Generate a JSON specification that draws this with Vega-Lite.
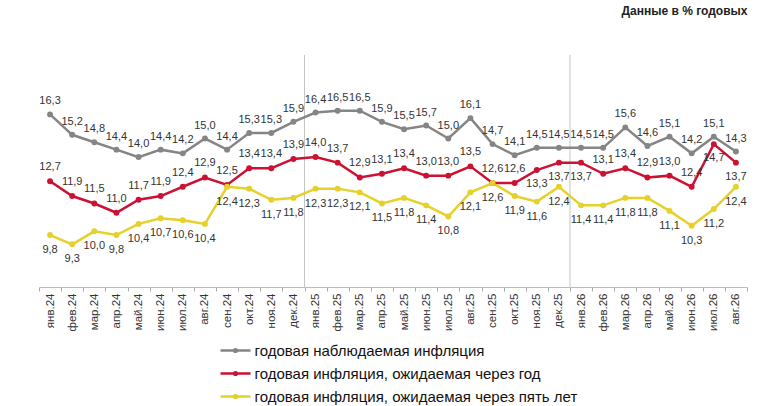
{
  "$schema": "https://vega.github.io/schema/vega-lite/v6.json",
  "width": 708,
  "height": 232,
  "autosize": "none",
  "padding": {"left": 39, "top": 55, "right": 35, "bottom": 119},
  "background": "white",
  "title": {
    "text": "Данные в % годовых",
    "anchor": "end",
    "offset": 37,
    "fontSize": 12,
    "fontWeight": "bold",
    "color": "#222"
  },
  "config": {
    "view": {"stroke": null},
    "font": "Liberation Sans",
    "locale": {
      "number": {"decimal": ",", "thousands": " ", "grouping": [3], "currency": ["", ""]}
    }
  },
  "datasets": {
    "inf": [
      {"m": "янв.24", "obs": 16.3, "y1": 12.7, "y5": 9.8},
      {"m": "фев.24", "obs": 15.2, "y1": 11.9, "y5": 9.3},
      {"m": "мар.24", "obs": 14.8, "y1": 11.5, "y5": 10.0},
      {"m": "апр.24", "obs": 14.4, "y1": 11.0, "y5": 9.8},
      {"m": "май.24", "obs": 14.0, "y1": 11.7, "y5": 10.4},
      {"m": "июн.24", "obs": 14.4, "y1": 11.9, "y5": 10.7},
      {"m": "июл.24", "obs": 14.2, "y1": 12.4, "y5": 10.6},
      {"m": "авг.24", "obs": 15.0, "y1": 12.9, "y5": 10.4},
      {"m": "сен.24", "obs": 14.4, "y1": 12.5, "y5": 12.4},
      {"m": "окт.24", "obs": 15.3, "y1": 13.4, "y5": 12.3},
      {"m": "ноя.24", "obs": 15.3, "y1": 13.4, "y5": 11.7},
      {"m": "дек.24", "obs": 15.9, "y1": 13.9, "y5": 11.8},
      {"m": "янв.25", "obs": 16.4, "y1": 14.0, "y5": 12.3},
      {"m": "фев.25", "obs": 16.5, "y1": 13.7, "y5": 12.3},
      {"m": "мар.25", "obs": 16.5, "y1": 12.9, "y5": 12.1},
      {"m": "апр.25", "obs": 15.9, "y1": 13.1, "y5": 11.5},
      {"m": "май.25", "obs": 15.5, "y1": 13.4, "y5": 11.8},
      {"m": "июн.25", "obs": 15.7, "y1": 13.0, "y5": 11.4},
      {"m": "июл.25", "obs": 15.0, "y1": 13.0, "y5": 10.8},
      {"m": "авг.25", "obs": 16.1, "y1": 13.5, "y5": 12.1},
      {"m": "сен.25", "obs": 14.7, "y1": 12.6, "y5": 12.6},
      {"m": "окт.25", "obs": 14.1, "y1": 12.6, "y5": 11.9},
      {"m": "ноя.25", "obs": 14.5, "y1": 13.3, "y5": 11.6},
      {"m": "дек.25", "obs": 14.5, "y1": 13.7, "y5": 12.4},
      {"m": "янв.26", "obs": 14.5, "y1": 13.7, "y5": 11.4},
      {"m": "фев.26", "obs": 14.5, "y1": 13.1, "y5": 11.4},
      {"m": "мар.26", "obs": 15.6, "y1": 13.4, "y5": 11.8},
      {"m": "апр.26", "obs": 14.6, "y1": 12.9, "y5": 11.8},
      {"m": "май.26", "obs": 15.1, "y1": 13.0, "y5": 11.1},
      {"m": "июн.26", "obs": 14.2, "y1": 12.4, "y5": 10.3},
      {"m": "июл.26", "obs": 15.1, "y1": 14.7, "y5": 11.2},
      {"m": "авг.26", "obs": 14.3, "y1": 13.7, "y5": 12.4}
    ],
    "sep": [{"m": "янв.25"}, {"m": "янв.26"}]
  },
  "encoding": {
    "x": {
      "field": "m",
      "type": "nominal",
      "title": null,
      "scale": {
        "type": "band",
        "paddingInner": 0,
        "paddingOuter": 0,
        "domain": ["янв.24", "фев.24", "мар.24", "апр.24", "май.24", "июн.24", "июл.24", "авг.24", "сен.24", "окт.24", "ноя.24", "дек.24",
                   "янв.25", "фев.25", "мар.25", "апр.25", "май.25", "июн.25", "июл.25", "авг.25", "сен.25", "окт.25", "ноя.25", "дек.25",
                   "янв.26", "фев.26", "мар.26", "апр.26", "май.26", "июн.26", "июл.26", "авг.26"]
      },
      "axis": {
        "labelAngle": -90,
        "labelFontSize": 11.5,
        "labelColor": "#333",
        "tickBand": "extent",
        "tickSize": 4,
        "tickColor": "#aaa",
        "domainColor": "#bbb",
        "labelPadding": 2,
        "grid": false
      }
    }
  },
  "layer": [
    {
      "data": {"name": "sep"},
      "mark": {"type": "rule", "color": "#c4c4c4", "strokeWidth": 1},
      "encoding": {"x": {"field": "m", "type": "nominal", "bandPosition": 0}}
    },
    {
      "data": {"name": "inf"},
      "transform": [{"fold": ["obs", "y1", "y5"], "as": ["s", "v"]}],
      "mark": {"type": "line", "strokeWidth": 2.5, "point": {"filled": true, "size": 35}},
      "encoding": {
        "y": {"field": "v", "type": "quantitative", "scale": {"domain": [7, 19.5], "zero": false, "nice": false}, "axis": null},
        "color": {
          "field": "s",
          "type": "nominal",
          "scale": {"domain": ["obs", "y1", "y5"], "range": ["#858585", "#cc1133", "#e6d02a"]},
          "legend": {
            "title": null,
            "orient": "none",
            "legendX": 187.5,
            "legendY": 286.5,
            "direction": "vertical",
            "padding": 0,
            "symbolType": "M-2,0H2M-0.18,0A0.18,0.18,0,1,1,0.18,0A0.18,0.18,0,1,1,-0.18,0",
            "symbolSize": 225,
            "symbolStrokeWidth": 2.5,
            "labelFontSize": 15,
            "labelColor": "#111",
            "labelOffset": 10,
            "labelLimit": 600,
            "rowPadding": 6,
            "labelExpr": "datum.value == 'obs' ? 'годовая наблюдаемая  инфляция' : datum.value == 'y1' ? 'годовая инфляция,  ожидаемая через год' : 'годовая инфляция,  ожидаемая через пять лет'"
          }
        }
      }
    },
    {
      "data": {"name": "inf"},
      "mark": {"type": "text", "fontSize": 11, "color": "#333", "dy": -13},
      "encoding": {
        "y": {"field": "obs", "type": "quantitative"},
        "text": {"field": "obs", "type": "quantitative", "format": ".1f"}
      }
    },
    {
      "data": {"name": "inf"},
      "transform": [{"filter": "indexof(['ноя.25','дек.25','янв.26','июл.26','авг.26'], datum.m) < 0"}],
      "mark": {"type": "text", "fontSize": 11, "color": "#333", "dy": -14},
      "encoding": {
        "y": {"field": "y1", "type": "quantitative"},
        "text": {"field": "y1", "type": "quantitative", "format": ".1f"}
      }
    },
    {
      "data": {"name": "inf"},
      "transform": [{"filter": "indexof(['ноя.25','дек.25','янв.26','июл.26','авг.26'], datum.m) >= 0"}],
      "mark": {"type": "text", "fontSize": 11, "color": "#333", "dy": 14},
      "encoding": {
        "y": {"field": "y1", "type": "quantitative"},
        "text": {"field": "y1", "type": "quantitative", "format": ".1f"}
      }
    },
    {
      "data": {"name": "inf"},
      "mark": {"type": "text", "fontSize": 11, "color": "#333", "dy": 15},
      "encoding": {
        "y": {"field": "y5", "type": "quantitative"},
        "text": {"field": "y5", "type": "quantitative", "format": ".1f"}
      }
    }
  ]
}
